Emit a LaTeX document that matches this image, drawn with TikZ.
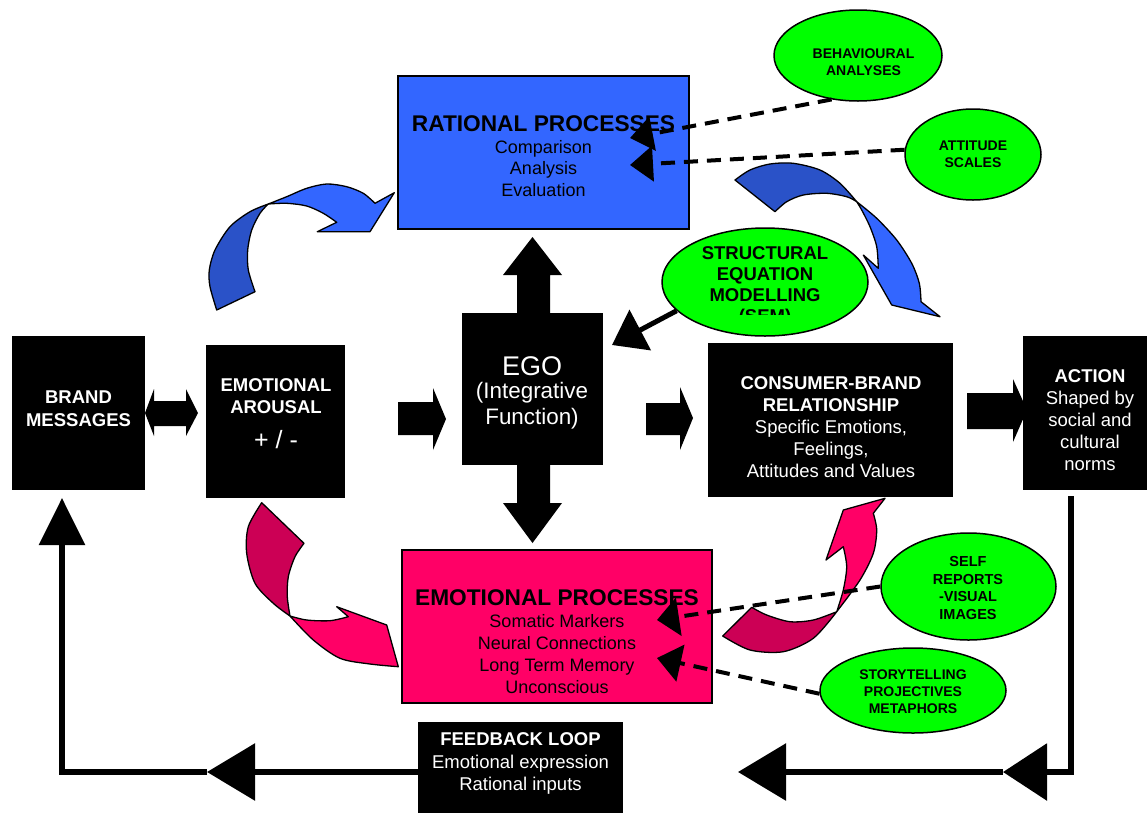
\documentclass[tikz,border=0pt]{standalone}
\usepackage{fontspec}
\setmainfont{Liberation Sans}
\usetikzlibrary{arrows.meta,shapes.geometric}
\definecolor{rblue}{HTML}{3366FF}
\definecolor{dblue}{HTML}{2A52C8}
\definecolor{rpink}{HTML}{FF0066}
\definecolor{dpink}{HTML}{CC0055}
\definecolor{egreen}{HTML}{00FF00}
\begin{document}
\begin{tikzpicture}[x=1pt,y=-1pt,
 blk/.style={fill=black, draw=none, inner sep=0pt, outer sep=0pt},
 colbox/.style={draw=black, line width=1.8pt, inner sep=0pt, outer sep=0pt},
 wtxt/.style={text=white, align=center, inner sep=0pt},
 btxt/.style={text=black, align=center, inner sep=0pt},
 ell/.style={ellipse, draw=black, line width=1.5pt, fill=egreen, inner sep=0pt},
 dsh/.style={line width=4pt, dash pattern=on 14pt off 9pt},
 fbline/.style={line width=6pt},
 ribbon/.style={draw=black, line width=1.3pt, line join=round},
 blockarrow/.style={fill=black},
]
\useasboundingbox (0,0) rectangle (1148,823);

% ---------- boxes ----------
\node[blk, minimum width=133pt, minimum height=154pt] (brand) at (78.5,413) {};
\node[blk, minimum width=139pt, minimum height=153pt] (arousal) at (275.5,421.5) {};
\node[blk, minimum width=141pt, minimum height=152pt] (ego) at (532.5,389) {};
\node[blk, minimum width=245pt, minimum height=154pt] (consumer) at (830.5,420) {};
\node[blk, minimum width=124pt, minimum height=154pt] (action) at (1085,413) {};
\node[colbox, fill=rblue, minimum width=291pt, minimum height=153pt] (rational) at (543.5,152.5) {};
\node[colbox, fill=rpink, minimum width=310pt, minimum height=153pt] (emoproc) at (557,626.5) {};
\node[blk, minimum width=205pt, minimum height=91pt] (feedback) at (520.5,767.5) {};

% ---------- block arrows ----------
\fill[blockarrow] (145,413) -- (154,389) -- (154,401) -- (186,401) -- (186,389) -- (198,413) -- (186,436) -- (186,426) -- (154,426) -- (154,436) -- cycle;
\fill[blockarrow] (398,402) -- (433,402) -- (433,388) -- (446,419) -- (433,450) -- (433,435) -- (398,435) -- cycle;
\fill[blockarrow] (646,403) -- (680,403) -- (680,387) -- (693,418) -- (680,450) -- (680,435) -- (646,435) -- cycle;
\fill[blockarrow] (967,393) -- (1013,393) -- (1013,379) -- (1027,410) -- (1013,442) -- (1013,429) -- (967,429) -- cycle;
\fill[blockarrow] (517,314) -- (517,275) -- (503,275) -- (532.5,237) -- (562,275) -- (550,275) -- (550,314) -- cycle;
\fill[blockarrow] (517,464) -- (517,503) -- (503,503) -- (532.5,543) -- (562,503) -- (550,503) -- (550,464) -- cycle;

% ---------- curved ribbon arrows ----------
% blue left
\filldraw[ribbon, fill=dblue] plot[smooth] coordinates {(216.7,310) (210,286.7) (209.3,270) (215,250) (230,226.7) (250,211.7) (268.3,204)}
  -- plot[smooth] coordinates {(268.3,204) (260,213.3) (251.7,230) (247.7,250) (248.3,270) (255,291.7)} -- cycle;
\filldraw[ribbon, fill=rblue] plot[smooth] coordinates {(268.3,204) (286.7,196.7) (306.7,188.3) (326.7,184) (346.7,186.7) (363.3,193.3) (375,203.3)}
  -- (394.3,192.7) -- (370,231.7) -- (317.3,231.7)
  -- plot[smooth] coordinates {(336.7,222.3) (323.3,213.3) (306.7,206) (286.7,203.3) (268.3,204)} -- cycle;
% blue right
\filldraw[ribbon, fill=dblue] plot[smooth] coordinates {(735,180) (750,170) (770,164) (793.3,163.3) (820,170) (840,183.3) (856.7,201.7)}
  -- plot[smooth] coordinates {(856.7,201.7) (846.7,196.7) (826.7,193.3) (803.3,195) (786.7,201.7) (775,211.7)} -- cycle;
\filldraw[ribbon, fill=rblue] plot[smooth] coordinates {(856.7,201.7) (876.7,218.3) (896.7,240) (911.7,263.3) (919.3,283.3) (921,301.7)}
  -- (940,316.7) -- (891.7,305) -- (863.3,255)
  -- plot[smooth] coordinates {(878.3,268.3) (876.7,246.7) (870,226.7) (861.7,210) (856.7,201.7)} -- cycle;
% pink left
\filldraw[ribbon, fill=dpink] (261.7,502.7) -- (304,543.3)
  -- plot[smooth] coordinates {(304,543.3) (295,556.7) (288.3,576.7) (287.3,596.7) (290,616)}
  -- plot[smooth] coordinates {(290,616) (273.3,603.3) (255,583.3) (246.7,553.3) (248.3,526.7) (261.7,502.7)} -- cycle;
\filldraw[ribbon, fill=rpink] plot[smooth] coordinates {(290,616) (313.3,640) (340,658.3) (370,664) (398.3,666.7)}
  -- (386.7,625) -- (336.7,606.7)
  -- plot[smooth] coordinates {(348.3,616.7) (330,620.7) (306.7,620) (290,616)} -- cycle;
% pink right
\filldraw[ribbon, fill=dpink] plot[smooth] coordinates {(722.7,636) (750,650) (783.3,651.7) (813.3,638.3) (836.7,611.7)}
  -- plot[smooth] coordinates {(836.7,611.7) (813.3,620) (790,621.7) (766.7,615) (751.7,607.3)} -- cycle;
\filldraw[ribbon, fill=rpink] plot[smooth] coordinates {(836.7,611.7) (860,580) (873.3,553.3) (876.7,530) (873.3,513.3)}
  -- (885,498.3) -- (843.3,510) -- (826,560)
  -- plot[smooth] coordinates {(843.3,546.7) (846.7,566.7) (843.3,590) (836.7,611.7)} -- cycle;

% ---------- ellipses ----------
\node[ell, minimum width=168pt, minimum height=91pt] (behav) at (858,55.5) {};
\node[ell, minimum width=136pt, minimum height=91pt] (att) at (973,154.5) {};
\node[ell, minimum width=206pt, minimum height=108pt] (sem) at (765,282) {};
\node[ell, minimum width=175pt, minimum height=107pt] (self) at (968.5,586.5) {};
\node[ell, minimum width=186pt, minimum height=85pt] (story) at (913,690.5) {};

% ---------- texts ----------
\node[wtxt, font=\fontsize{18.5}{23}\selectfont\bfseries] (brandtxt) at (78.5,408.5) {BRAND\\MESSAGES};
\node[wtxt, font=\fontsize{18.5}{22}\selectfont\bfseries] (aroutxt) at (276,396) {EMOTIONAL\\AROUSAL};
\node[wtxt, font=\fontsize{25}{26}\selectfont] (arousign) at (276,440) {+ / -};
\node[wtxt, font=\fontsize{27}{28}\selectfont] (egotitle) at (532,366) {EGO};
\node[wtxt, font=\fontsize{22.4}{26}\selectfont] (egotxt) at (532,406) {(Integrative\\Function)};
\node[wtxt, font=\fontsize{18.5}{22}\selectfont] (constxt) at (831,427) {\bfseries CONSUMER-BRAND\\\bfseries RELATIONSHIP\\\mdseries Specific Emotions,\\Feelings,\\Attitudes and Values};
\node[wtxt, font=\fontsize{18.5}{22}\selectfont] (acttxt) at (1090,420) {\bfseries ACTION\\\mdseries Shaped by\\social and\\cultural\\norms};
\node[btxt, font=\fontsize{22.7}{24}\selectfont\bfseries] (rattitle) at (543.5,124) {RATIONAL PROCESSES};
\node[btxt, font=\fontsize{18}{21.5}\selectfont] (rattxt) at (543.5,168.5) {Comparison\\Analysis\\Evaluation};
\node[btxt, font=\fontsize{22.7}{24}\selectfont\bfseries] (emotitle) at (557,598) {EMOTIONAL PROCESSES};
\node[btxt, font=\fontsize{18}{22}\selectfont] (emotxt) at (557,654) {Somatic Markers\\Neural Connections\\Long Term Memory\\Unconscious};
\node[wtxt, font=\fontsize{18.5}{22.5}\selectfont] (fbtxt) at (520.5,763.5) {\bfseries FEEDBACK LOOP\\\mdseries Emotional expression\\Rational inputs};

\node[btxt, font=\fontsize{14}{17.5}\selectfont\bfseries] (behavtxt) at (863.5,62) {BEHAVIOURAL\\ANALYSES};
\node[btxt, font=\fontsize{14}{17}\selectfont\bfseries] (atttxt) at (973,154.5) {ATTITUDE\\SCALES};
\begin{scope}
\clip (650,225) rectangle (880,314);
\node[btxt, font=\fontsize{18.5}{21}\selectfont\bfseries] (semtxt) at (765,286) {STRUCTURAL\\EQUATION\\MODELLING\\(SEM)};
\end{scope}
\node[btxt, font=\fontsize{14.5}{17.5}\selectfont\bfseries] (selftxt) at (968,588) {SELF\\REPORTS\\-VISUAL\\IMAGES};
\node[btxt, font=\fontsize{14}{17}\selectfont\bfseries] (storytxt) at (913,692) {STORYTELLING\\PROJECTIVES\\METAPHORS};

% ---------- dashed measurement arrows ----------
\coordinate (tA) at (630,138);
\coordinate (tB) at (630,165);
\coordinate (tC) at (657,620);
\coordinate (tD) at (657,658);
\coordinate (tS) at (612,345);
\draw[dsh, -{Triangle[length=23pt,width=34pt]}] (behav.239) -- (tA);
\draw[dsh, -{Triangle[length=23pt,width=35pt]}] (att.176) -- (tB);
\draw[dsh, -{Triangle[length=22pt,width=38pt]}] (self.180) -- (tC);
\draw[dsh, -{Triangle[length=24pt,width=37pt]}] (story.182) -- (tD);
\draw[line width=5pt, -{Triangle[length=32pt,width=45pt]}] (sem.198) -- (tS);

% ---------- feedback loop ----------
\coordinate (m1) at (1003,772);
\coordinate (m2) at (738,772);
\coordinate (m3) at (207,772);
\draw[fbline, -{Triangle[length=44pt,width=56pt]}] ([xshift=-14pt,yshift=-6pt]action.south) |- (m1);
\draw[fbline, -{Triangle[length=48pt,width=56pt]}] (m1) -- (m2);
\draw[fbline, -{Triangle[length=48pt,width=56pt]}] ([yshift=-4.5pt]feedback.west) -- (m3);
\draw[fbline, -{Triangle[length=47pt,width=45pt]}] (m3) -| ([xshift=-16.5pt,yshift=-8pt]brand.south);
\end{tikzpicture}
\end{document}
